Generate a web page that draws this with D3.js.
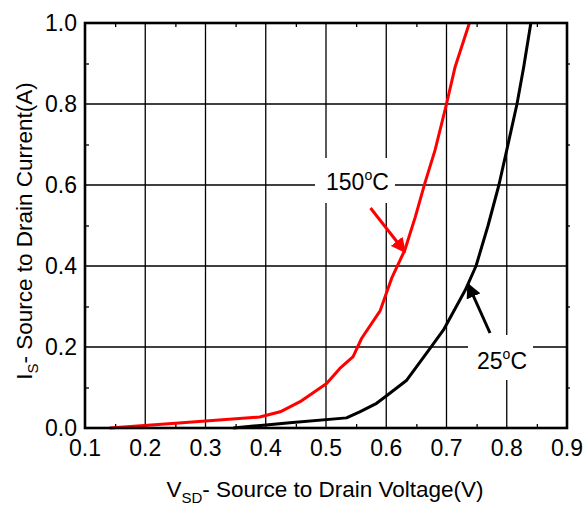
<!DOCTYPE html>
<html>
<head>
<meta charset="utf-8">
<script src="https://cdn.jsdelivr.net/npm/d3@7"></script>
<style>
  html, body { margin: 0; padding: 0; background: #fff; }
  svg { display: block; font-family: Arial, "Liberation Sans", sans-serif; }
</style>
</head>
<body>
<svg id="chart" width="584" height="507"></svg>
<script>
// Source-drain diode forward characteristic at two junction temperatures
const xTicks = [0.1, 0.2, 0.3, 0.4, 0.5, 0.6, 0.7, 0.8, 0.9];
const yTicks = [0.0, 0.2, 0.4, 0.6, 0.8, 1.0];

// 150 °C curve: [VSD (V), IS (A)]
const hotV = [0.141, 0.25, 0.39, 0.424, 0.457, 0.501, 0.523, 0.545, 0.559, 0.59, 0.609, 0.631, 0.648, 0.664, 0.681, 0.700, 0.714, 0.738];
const hotI = [0.000, 0.012, 0.027, 0.040, 0.065, 0.110, 0.147, 0.176, 0.221, 0.290, 0.370, 0.440, 0.520, 0.604, 0.686, 0.800, 0.890, 1.000];

// 25 °C curve
const coldV = [0.346, 0.396, 0.44, 0.534, 0.556, 0.584, 0.600, 0.634, 0.673, 0.695, 0.731, 0.749, 0.769, 0.787, 0.800, 0.817, 0.828, 0.840];
const coldI = [0.000, 0.007, 0.013, 0.025, 0.040, 0.061, 0.079, 0.118, 0.197, 0.242, 0.340, 0.400, 0.500, 0.600, 0.686, 0.800, 0.890, 1.000];

const margin = { left: 85, top: 23, right: 567, bottom: 428 };

const svg = d3.select("#chart");
const x = d3.scaleLinear().domain([0.1, 0.9]).range([margin.left, margin.right]);
const y = d3.scaleLinear().domain([0, 1]).range([margin.bottom, margin.top]);

// grid
const grid = svg.append("g").attr("stroke", "#000").attr("stroke-width", 1.3);
grid.selectAll("line.vx").data(xTicks.slice(1, -1)).join("line")
  .attr("x1", d => x(d)).attr("x2", d => x(d))
  .attr("y1", y(0)).attr("y2", y(1));
grid.selectAll("line.hy").data(yTicks.slice(1, -1)).join("line")
  .attr("x1", x(0.1)).attr("x2", x(0.9))
  .attr("y1", d => y(d)).attr("y2", d => y(d));

// minor ticks at half steps, drawn with d3 axes
const xMinor = d3.range(0.15, 0.9, 0.1);
const yMinor = d3.range(0.1, 1.0, 0.2);
const tickStyle = g => { g.select(".domain").remove(); g.selectAll("line").attr("stroke", "#000").attr("stroke-width", 1.3); g.selectAll("text").remove(); };
svg.append("g").attr("transform", `translate(0,${y(0)})`)
  .call(d3.axisTop(x).tickValues(xMinor).tickSize(4)).call(tickStyle);
svg.append("g").attr("transform", `translate(0,${y(1)})`)
  .call(d3.axisBottom(x).tickValues(xMinor).tickSize(4)).call(tickStyle);
svg.append("g").attr("transform", `translate(${x(0.1)},0)`)
  .call(d3.axisRight(y).tickValues(yMinor).tickSize(4)).call(tickStyle);
svg.append("g").attr("transform", `translate(${x(0.9)},0)`)
  .call(d3.axisRight(y).tickValues(yMinor).tickSize(3)).call(tickStyle);

// annotation label backgrounds (they interrupt the grid)
svg.append("rect").attr("x", 315).attr("y", 158).attr("width", 80).attr("height", 45).attr("fill", "#fff");
svg.append("rect").attr("x", 468).attr("y", 335).attr("width", 65).attr("height", 45).attr("fill", "#fff");

// curves
const line = d3.line().x(d => x(d[0])).y(d => y(d[1]));
svg.append("path").datum(coldV.map((v, i) => [v, coldI[i]]))
  .attr("d", line).attr("fill", "none").attr("stroke", "#000")
  .attr("stroke-width", 3).attr("stroke-linejoin", "round");
svg.append("path").datum(hotV.map((v, i) => [v, hotI[i]]))
  .attr("d", line).attr("fill", "none").attr("stroke", "#ff0000")
  .attr("stroke-width", 3).attr("stroke-linejoin", "round");

// frame
svg.append("rect").attr("x", x(0.1)).attr("y", y(1))
  .attr("width", x(0.9) - x(0.1)).attr("height", y(0) - y(1))
  .attr("fill", "none").attr("stroke", "#000").attr("stroke-width", 2.6);

// tick labels
svg.append("g").selectAll("text").data(xTicks).join("text")
  .attr("x", d => x(d)).attr("y", 456).attr("text-anchor", "middle")
  .attr("font-size", 23).text(d => d.toFixed(1));
svg.append("g").selectAll("text").data(yTicks).join("text")
  .attr("x", 77).attr("y", d => y(d) + 8).attr("text-anchor", "end")
  .attr("font-size", 23).text(d => d.toFixed(1));

// axis titles
const xt = svg.append("text").attr("x", 325).attr("y", 497).attr("text-anchor", "middle").attr("font-size", 22.5);
xt.append("tspan").text("V");
xt.append("tspan").attr("font-size", 15).attr("dy", 6).text("SD");
xt.append("tspan").attr("dy", -6).text("- Source to Drain Voltage(V)");

const yt = svg.append("text").attr("transform", "translate(32,231) rotate(-90)")
  .attr("text-anchor", "middle").attr("font-size", 22.5);
yt.append("tspan").text("I");
yt.append("tspan").attr("font-size", 15).attr("dy", 6).text("S");
yt.append("tspan").attr("dy", -6).text("- Source to Drain Current(A)");

// arrow markers
const defs = svg.append("defs");
[["ahRed", "#ff0000"], ["ahBlack", "#000"]].forEach(([id, c]) => {
  defs.append("marker").attr("id", id).attr("viewBox", "0 0 10 10")
    .attr("refX", 9).attr("refY", 5).attr("markerWidth", 5).attr("markerHeight", 5)
    .attr("orient", "auto").attr("markerUnits", "strokeWidth")
    .append("path").attr("d", "M0,0 L10,5 L0,10 z").attr("fill", c);
});

// temperature labels with arrows
const t1 = svg.append("text").attr("x", 326).attr("y", 190).attr("font-size", 23);
t1.append("tspan").text("150");
t1.append("tspan").attr("font-size", 14).attr("dy", -10).text("o");
t1.append("tspan").attr("dy", 10).text("C");
svg.append("line").attr("x1", 370.5).attr("y1", 208).attr("x2", 405).attr("y2", 252)
  .attr("stroke", "#ff0000").attr("stroke-width", 3).attr("marker-end", "url(#ahRed)");

const t2 = svg.append("text").attr("x", 477).attr("y", 369).attr("font-size", 23);
t2.append("tspan").text("25");
t2.append("tspan").attr("font-size", 14).attr("dy", -10).text("o");
t2.append("tspan").attr("dy", 10).text("C");
svg.append("line").attr("x1", 490).attr("y1", 333).attr("x2", 468).attr("y2", 284)
  .attr("stroke", "#000").attr("stroke-width", 3).attr("marker-end", "url(#ahBlack)");
</script>
</body>
</html>
